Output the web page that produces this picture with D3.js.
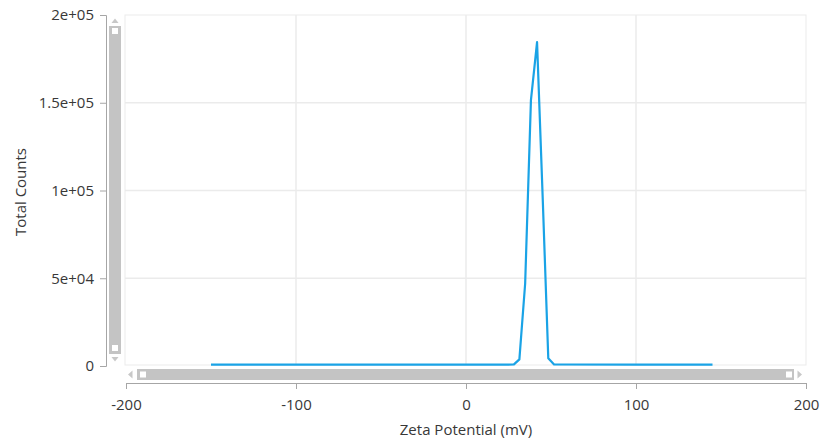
<!DOCTYPE html>
<html><head><meta charset="utf-8">
<script src="https://cdn.jsdelivr.net/npm/d3@7"></script>
<style>body{margin:0;background:#fff;}svg{display:block;font-family:"Open Sans","Noto Sans",sans-serif;}</style>
</head><body>
<svg id="c" width="823" height="442"></svg>
<script>
const zeta = [-150, -100, -50, 0, 24.5, 28.2, 31.4, 34.8, 38.2, 41.8, 45.2, 48.4, 51.8, 100, 145];
const counts = [800, 800, 800, 800, 800, 900, 3800, 47000, 151500, 184500, 93500, 4400, 900, 800, 800];
const xTicks = [-200, -100, 0, 100, 200];
const yTicks = [0, 50000, 100000, 150000, 200000];
const yTickLabels = ["0", "5e+04", "1e+05", "1.5e+05", "2e+05"];

const svg = d3.select("#c");
const L = 125, R = 806, T = 15, B = 365;
const x = d3.scaleLinear().domain([-200, 200]).range([L + 1, R]);
const y = d3.scaleLinear().domain([0, 200000]).range([B + 1, T]);
const FONT = '"Open Sans","Noto Sans",sans-serif';

// plot border
svg.append("rect").attr("x", L).attr("y", T).attr("width", R - L).attr("height", B - T)
  .attr("fill", "none").attr("stroke", "#ebebeb").attr("stroke-width", 1);
// grid
svg.append("g").selectAll("line").data(xTicks.slice(1, -1)).join("line")
  .attr("x1", d => x(d)).attr("x2", d => x(d)).attr("y1", T).attr("y2", B)
  .attr("stroke", "#ebebeb").attr("stroke-width", 1.5);
svg.append("g").selectAll("line").data(yTicks.slice(1, -1)).join("line")
  .attr("y1", d => y(d)).attr("y2", d => y(d)).attr("x1", L).attr("x2", R)
  .attr("stroke", "#ebebeb").attr("stroke-width", 1.5);

// y axis
const yAxis = svg.append("g").attr("transform", "translate(106,0)")
  .call(d3.axisLeft(y).tickValues(yTicks).tickFormat((d, i) => yTickLabels[i]).tickSize(6).tickPadding(6));
// x axis
const xAxis = svg.append("g").attr("transform", "translate(0,383)")
  .call(d3.axisBottom(x).tickValues(xTicks).tickFormat(d => String(d)).tickSize(6).tickPadding(10));
[yAxis, xAxis].forEach(a => {
  a.select(".domain").attr("stroke", "#a6a6a6");
  a.selectAll(".tick line").attr("stroke", "#a6a6a6");
  a.selectAll(".tick text").attr("fill", "#383838").style("font-size", "15px")
   .style("font-family", FONT);
});

// line
svg.append("path").datum(zeta.map((v, i) => [v, counts[i]]))
  .attr("d", d3.line().x(d => x(d[0])).y(d => y(d[1])))
  .attr("fill", "none").attr("stroke", "#1aa3e6").attr("stroke-width", 2.2).attr("stroke-linejoin", "round");

// vertical scrollbar
const sb = svg.append("g");
sb.append("path").attr("d", "M111.5,23 L115,18.5 L118.5,23 Z").attr("fill", "#c8c8c8");
sb.append("rect").attr("x", 109).attr("y", 26).attr("width", 12).attr("height", 328).attr("fill", "#c4c4c4");
sb.append("rect").attr("x", 112).attr("y", 28).attr("width", 6).attr("height", 6).attr("fill", "#fff");
sb.append("rect").attr("x", 112).attr("y", 345).attr("width", 6).attr("height", 6).attr("fill", "#fff");
sb.append("path").attr("d", "M111.5,357 L115,361.5 L118.5,357 Z").attr("fill", "#c8c8c8");

// horizontal scrollbar
const hb = svg.append("g");
hb.append("path").attr("d", "M132.5,370.5 L128,374.5 L132.5,378.5 Z").attr("fill", "#c8c8c8");
hb.append("rect").attr("x", 137).attr("y", 369).attr("width", 657).attr("height", 11).attr("fill", "#c4c4c4");
hb.append("rect").attr("x", 140).attr("y", 371.5).attr("width", 6).attr("height", 6).attr("fill", "#fff");
hb.append("rect").attr("x", 786).attr("y", 371.5).attr("width", 6).attr("height", 6).attr("fill", "#fff");
hb.append("path").attr("d", "M797.5,370.5 L802,374.5 L797.5,378.5 Z").attr("fill", "#c8c8c8");

// titles
svg.append("text").attr("x", 466).attr("y", 435).attr("text-anchor", "middle")
  .attr("fill", "#383838").style("font-size", "15px").text("Zeta Potential (mV)");
svg.append("text").attr("transform", "translate(26,192) rotate(-90)").attr("text-anchor", "middle")
  .attr("fill", "#383838").style("font-size", "15px").text("Total Counts");
</script>
</body></html>
